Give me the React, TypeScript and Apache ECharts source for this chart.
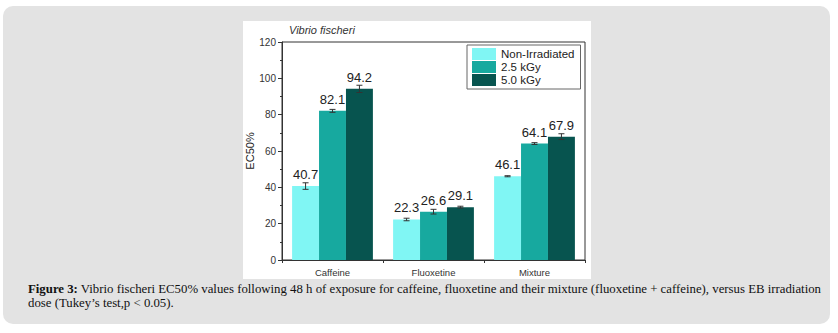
import React, { useEffect, useRef } from "react";
import * as echarts from "echarts";

// Categories and series
const categories = ["Caffeine", "Fluoxetine", "Mixture"];
const seriesNames = ["Non-Irradiated", "2.5 kGy", "5.0 kGy"];

// EC50% means per treatment
const nonIrradiated = [40.7, 22.3, 46.1];
const dose25 = [82.1, 26.6, 64.1];
const dose50 = [94.2, 29.1, 67.9];

// Standard deviations (error bars)
const errNonIrradiated = [1.8, 0.7, 0.3];
const errDose25 = [0.8, 1.3, 0.5];
const errDose50 = [2.0, 0.5, 1.6];

const yMin = 0;
const yMax = 120;
const yInterval = 20;

const colors = ["#80f6f4", "#17a99f", "#07544f"];

const captionBold = "Figure 3:";
const captionLine1 =
  " Vibrio fischeri EC50% values following 48 h of exposure for caffeine, fluoxetine and their mixture (fluoxetine + caffeine), versus EB irradiation";
const captionLine2 = "dose (Tukey\u2019s test,p < 0.05).";

export default function App() {
  const ref = useRef<HTMLDivElement>(null);

  useEffect(() => {
    if (!ref.current) return;
    const chart = echarts.init(ref.current, null, { renderer: "svg" });

    const values = [nonIrradiated, dose25, dose50];
    const errors = [errNonIrradiated, errDose25, errDose50];
    const nGroups = values.length;

    const barSeries = values.map((vals, k) => ({
      name: seriesNames[k],
      type: "bar",
      data: vals,
      barGap: "0%",
      barCategoryGap: "20%",
      itemStyle: { color: colors[k] },
      label: {
        show: true,
        position: "top",
        distance: 5,
        fontFamily: "Liberation Sans",
        fontSize: 13,
        color: "#222",
        formatter: (p: any) => p.value.toFixed(1),
      },
      z: 2,
    }));

    const errorSeries = values.map((vals, k) => ({
      name: seriesNames[k] + " error",
      type: "custom",
      z: 3,
      silent: true,
      data: vals.map((v, i) => [i, v - errors[k][i], v + errors[k][i]]),
      renderItem: (params: any, api: any) => {
        const idx = api.value(0);
        const lo = api.coord([idx, api.value(1)]);
        const hi = api.coord([idx, api.value(2)]);
        const band = api.size([1, 0])[0];
        const bw = (band * 0.8) / nGroups;
        const x = lo[0] + (k - (nGroups - 1) / 2) * bw;
        const cap = 3;
        const style = { stroke: "#333", lineWidth: 1 };
        return {
          type: "group",
          children: [
            { type: "line", shape: { x1: x, y1: lo[1], x2: x, y2: hi[1] }, style },
            { type: "line", shape: { x1: x - cap, y1: lo[1], x2: x + cap, y2: lo[1] }, style },
            { type: "line", shape: { x1: x - cap, y1: hi[1], x2: x + cap, y2: hi[1] }, style },
          ],
        };
      },
    }));

    chart.setOption({
      animation: false,
      backgroundColor: "#ffffff",
      graphic: [
        {
          type: "rect",
          z: -10,
          shape: { x: 3, y: 6, width: 827, height: 318, r: 10 },
          style: { fill: "#e3e3e3" },
        },
        {
          type: "rect",
          z: -9,
          shape: { x: 243, y: 21, width: 348, height: 258 },
          style: { fill: "#ffffff" },
        },
        {
          type: "text",
          x: 289,
          y: 30,
          style: {
            text: "Vibrio fischeri",
            fontFamily: "Liberation Sans",
            fontStyle: "italic",
            fontSize: 11,
            fill: "#333",
            verticalAlign: "middle",
          },
        },
        {
          type: "text",
          x: 28,
          y: 282,
          style: {
            text: "{b|" + captionBold + "}" + captionLine1 + "\n" + captionLine2,
            fontFamily: "Liberation Serif",
            fontSize: 12.8,
            lineHeight: 14,
            fill: "#111",
            rich: {
              b: {
                fontFamily: "Liberation Serif",
                fontSize: 12.8,
                fontWeight: "bold",
                fill: "#111",
                lineHeight: 14,
              },
            },
          },
        },
      ],
      legend: {
        data: seriesNames,
        orient: "vertical",
        left: 467,
        top: 45,
        itemWidth: 24,
        itemHeight: 12,
        itemGap: 1,
        icon: "rect",
        padding: [3, 6, 3, 5],
        borderColor: "#666",
        borderWidth: 1,
        textStyle: {
          fontFamily: "Liberation Sans",
          fontSize: 11.5,
          color: "#222",
          lineHeight: 12,
        },
      },
      grid: {
        left: 282,
        right: 253,
        top: 42,
        bottom: 73,
        show: true,
        borderColor: "#333",
        borderWidth: 1,
        backgroundColor: "transparent",
      },
      xAxis: {
        type: "category",
        data: categories,
        axisLine: { lineStyle: { color: "#333" } },
        axisTick: { show: true, length: 3, lineStyle: { color: "#333" } },
        axisLabel: {
          fontFamily: "Liberation Sans",
          fontSize: 9.5,
          color: "#333",
          margin: 7,
        },
      },
      yAxis: {
        type: "value",
        min: yMin,
        max: yMax,
        interval: yInterval,
        name: "EC50%",
        nameLocation: "middle",
        nameGap: 27,
        nameTextStyle: {
          fontFamily: "Liberation Sans",
          fontSize: 11,
          color: "#222",
        },
        axisLine: { show: true, lineStyle: { color: "#333" } },
        axisTick: { show: true, length: 4, lineStyle: { color: "#333" } },
        minorTick: { show: true, splitNumber: 2, length: 2, lineStyle: { color: "#333" } },
        splitLine: { show: false },
        axisLabel: {
          fontFamily: "Liberation Sans",
          fontSize: 10,
          color: "#333",
          margin: 6,
        },
      },
      series: [...barSeries, ...errorSeries],
    });

    return () => chart.dispose();
  }, []);

  return (
    <div
      ref={ref}
      style={{ position: "fixed", left: 0, top: 0, width: 838, height: 333 }}
    />
  );
}
